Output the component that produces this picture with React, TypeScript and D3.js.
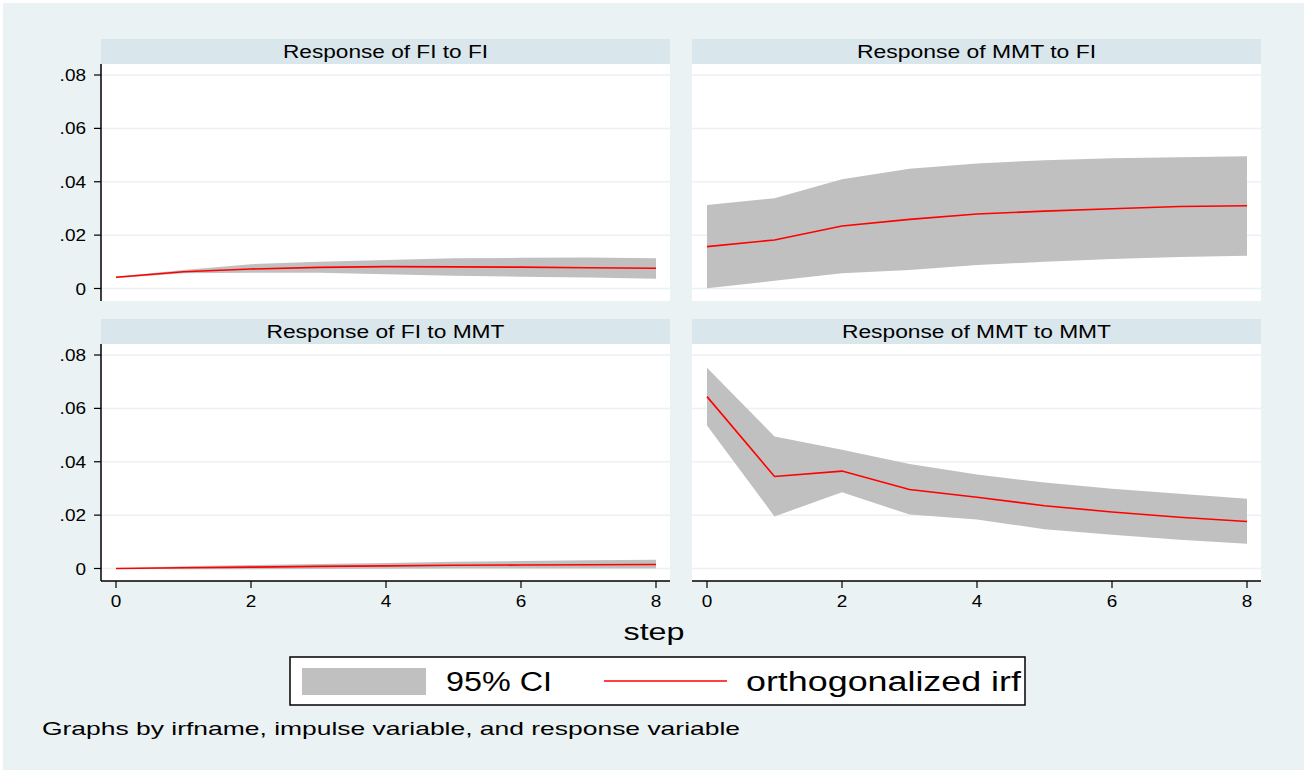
import React from "react";
import * as d3 from "d3";

const steps = [0, 1, 2, 3, 4, 5, 6, 7, 8];
const yTicks = [0, 0.02, 0.04, 0.06, 0.08];
const yTickLabels = ["0", ".02", ".04", ".06", ".08"];
const xTicks = [0, 2, 4, 6, 8];

// Response of FI to FI
const fiFiIrf = [0.0042, 0.0063, 0.0073, 0.0079, 0.0082, 0.0081, 0.008, 0.0078, 0.0076];
const fiFiUpper = [0.0044, 0.0069, 0.0091, 0.01, 0.0107, 0.0113, 0.0115, 0.0116, 0.0113];
const fiFiLower = [0.0038, 0.0057, 0.0059, 0.0059, 0.0053, 0.0048, 0.0044, 0.0041, 0.0037];

// Response of MMT to FI
const mmtFiIrf = [0.0157, 0.0182, 0.0234, 0.0259, 0.0279, 0.029, 0.0299, 0.0307, 0.031];
const mmtFiUpper = [0.0313, 0.0338, 0.0409, 0.0449, 0.0468, 0.0481, 0.0488, 0.0492, 0.0496];
const mmtFiLower = [0.0001, 0.0029, 0.0057, 0.0069, 0.0088, 0.01, 0.0111, 0.0118, 0.0123];

// Response of FI to MMT
const fiMmtIrf = [0, 0.0003, 0.0005, 0.0008, 0.001, 0.0012, 0.0013, 0.0014, 0.0015];
const fiMmtUpper = [0, 0.0008, 0.0013, 0.0017, 0.0021, 0.0025, 0.0028, 0.0031, 0.0033];
const fiMmtLower = [0, -0.0003, -0.0003, -0.0002, -0.0001, 0, 0, 0, 0];

// Response of MMT to MMT
const mmtMmtIrf = [0.0644, 0.0345, 0.0365, 0.0296, 0.0267, 0.0235, 0.0212, 0.0192, 0.0176];
const mmtMmtUpper = [0.0752, 0.0495, 0.0445, 0.0392, 0.0352, 0.0322, 0.0299, 0.028, 0.0261];
const mmtMmtLower = [0.0536, 0.0195, 0.0286, 0.0202, 0.0184, 0.0147, 0.0126, 0.0108, 0.0093];

const panelTitles = [
  "Response of FI to FI",
  "Response of MMT to FI",
  "Response of FI to MMT",
  "Response of MMT to MMT",
];
const titleLengths = [205, 239, 238, 269];

const legendLabels = ["95% CI", "orthogonalized irf"];
const xAxisTitle = "step";
const noteText = "Graphs by irfname, impulse variable, and response variable";

const BG = "#EAF2F3";
const STRIP = "#D9E6EB";
const GRID = "#EAF2F3";
const CI = "#C0C0C0";
const RED = "#FF0000";
const FONT = "Liberation Sans, Arial, Helvetica, sans-serif";

const panelsData = [
  { irf: fiFiIrf, up: fiFiUpper, lo: fiFiLower },
  { irf: mmtFiIrf, up: mmtFiUpper, lo: mmtFiLower },
  { irf: fiMmtIrf, up: fiMmtUpper, lo: fiMmtLower },
  { irf: mmtMmtIrf, up: mmtMmtUpper, lo: mmtMmtLower },
];

const colX = [101, 692];
const panelW = 569;
const rowY = [39, 319];
const stripH = 25;
const plotH = 237;

const tickFs = 16.5;
const stretch = 1.15;
const labelWidth = (s: string) =>
  s.split("").reduce((a, c) => a + (c === "." ? 0.278 : 0.556), 0) * tickFs * stretch;

export default function App() {
  const panels = panelsData.map((d, i) => {
    const col = i % 2;
    const row = Math.floor(i / 2);
    const x0 = colX[col];
    const top = rowY[row] + stripH;
    const bottom = top + plotH;
    const x = d3.scaleLinear().domain([0, 8]).range([x0 + 15, x0 + 555]);
    const y = d3.scaleLinear().domain([0, 0.08]).range([bottom - 12.5, bottom - 12.5 - 213.5]);
    const area = d3
      .area<number>()
      .x((s) => x(s))
      .y0((s) => y(d.lo[s]))
      .y1((s) => y(d.up[s]));
    const line = d3
      .line<number>()
      .x((s) => x(s))
      .y((s) => y(d.irf[s]));
    return (
      <g key={i}>
        <rect x={x0} y={rowY[row]} width={panelW} height={stripH} fill={STRIP} />
        <text
          x={x0 + panelW / 2}
          y={rowY[row] + 19}
          textAnchor="middle"
          fontSize={18}
          fontFamily={FONT}
          fill="#000"
          textLength={titleLengths[i]}
          lengthAdjust="spacingAndGlyphs"
        >
          {panelTitles[i]}
        </text>
        <rect x={x0} y={top} width={panelW} height={plotH} fill="#fff" />
        {yTicks.map((t) => (
          <line key={t} x1={x0} x2={x0 + panelW} y1={y(t)} y2={y(t)} stroke={GRID} strokeWidth={1.5} />
        ))}
        <path d={area(steps) || ""} fill={CI} stroke="none" />
        <path d={line(steps) || ""} fill="none" stroke={RED} strokeWidth={1.6} />
        {col === 0 && (
          <g>
            <line x1={x0} x2={x0} y1={top} y2={bottom} stroke="#000" strokeWidth={1.5} />
            {yTicks.map((t, k) => (
              <g key={t}>
                <line x1={x0 - 7} x2={x0} y1={y(t)} y2={y(t)} stroke="#000" strokeWidth={1.2} />
                <text
                  x={x0 - 15}
                  y={y(t) + 6}
                  textAnchor="end"
                  fontSize={tickFs}
                  fontFamily={FONT}
                  fill="#000"
                  textLength={labelWidth(yTickLabels[k])}
                  lengthAdjust="spacingAndGlyphs"
                >
                  {yTickLabels[k]}
                </text>
              </g>
            ))}
          </g>
        )}
        {row === 1 && (
          <g>
            <line x1={x0} x2={x0 + panelW} y1={bottom} y2={bottom} stroke="#000" strokeWidth={1.5} />
            {xTicks.map((t) => (
              <g key={t}>
                <line x1={x(t)} x2={x(t)} y1={bottom} y2={bottom + 7} stroke="#000" strokeWidth={1.2} />
                <text
                  x={x(t)}
                  y={bottom + 26}
                  textAnchor="middle"
                  fontSize={tickFs}
                  fontFamily={FONT}
                  fill="#000"
                  textLength={labelWidth(String(t))}
                  lengthAdjust="spacingAndGlyphs"
                >
                  {t}
                </text>
              </g>
            ))}
          </g>
        )}
      </g>
    );
  });

  return (
    <svg
      width={1304}
      height={770}
      style={{ position: "absolute", left: 0, top: 0, background: "#fff" }}
    >
      <rect x={3} y={3} width={1301} height={767} fill={BG} />
      {panels}
      <text
        x={654}
        y={640}
        textAnchor="middle"
        fontSize={23}
        fontFamily={FONT}
        fill="#000"
        textLength={61}
        lengthAdjust="spacingAndGlyphs"
      >
        {xAxisTitle}
      </text>
      <rect x={290} y={657} width={735} height={48} fill="#fff" stroke="#000" strokeWidth={1.5} />
      <rect x={302} y={668} width={124} height={27} fill={CI} />
      <text
        x={446}
        y={691}
        fontSize={27}
        fontFamily={FONT}
        fill="#000"
        textLength={106}
        lengthAdjust="spacingAndGlyphs"
      >
        {legendLabels[0]}
      </text>
      <line x1={604} x2={727} y1={681} y2={681} stroke={RED} strokeWidth={1.6} />
      <text
        x={746}
        y={691}
        fontSize={27}
        fontFamily={FONT}
        fill="#000"
        textLength={275}
        lengthAdjust="spacingAndGlyphs"
      >
        {legendLabels[1]}
      </text>
      <text
        x={42}
        y={735}
        fontSize={19}
        fontFamily={FONT}
        fill="#000"
        textLength={698}
        lengthAdjust="spacingAndGlyphs"
      >
        {noteText}
      </text>
    </svg>
  );
}
